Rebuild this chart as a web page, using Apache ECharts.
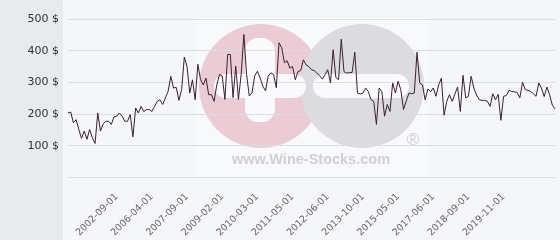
<!DOCTYPE html>
<html><head><meta charset="utf-8">
<script src="https://cdn.jsdelivr.net/npm/echarts@6/dist/echarts.min.js"></script>
<style>html,body{margin:0;padding:0;background:#f5f6f9}#c{width:560px;height:240px}</style>
</head><body><div id="c"></div>
<script>
// Price per bottle ($), in order
const prices = [
 203,206,172,182,151,123,146,120,151,125,107,203,146,169,177,177,167,191,193,203,
 193,177,177,198,128,219,203,224,208,214,214,
 208,224,240,245,230,251,271,319,282,284,243,277,380,350,266,308,245,357,308,292,
 313,261,261,240,292,
 325,320,246,388,388,252,351,246,325,451,325,257,267,320,335,314,288,273,320,330,
 325,283,425,409,362,368,345,350,308,
 334,337,371,355,350,340,337,329,321,310,324,340,298,403,315,308,436,334,329,331,
 331,395,266,263,266,282,271,245,240,167,282,271,193,230,208,298,266,303,277,214,
 240,266,264,266,395,298,292,245,279,270,282,256,292,313,196,240,261,240,263,285,
 208,322,251,256,319,282,260,245,243,243,240,224,264,245,262,180,256,258,275,271,
 270,268,251,300,277,275,271,264,256,298,282,255,285,261,228,216
];
const tickLabels = ['2002-09-01','2006-04-01','2007-09-01','2009-02-01','2010-03-01','2011-05-01',
  '2012-06-01','2013-10-01','2015-05-01','2017-06-01','2018-09-01','2019-11-01'];
const tickIndex = [18,31,44,57,70,83,96,109,122,135,148,161];
const yTicks = [0,100,200,300,400,500];

const categories = prices.map((_, i) => {
  const k = tickIndex.indexOf(i);
  return k >= 0 ? tickLabels[k] : '';
});

const chart = echarts.init(document.getElementById('c'), null, {renderer: 'canvas'});
chart.setOption({
  backgroundColor: '#f5f6f9',
  animation: false,
  graphic: [
    {type: 'rect', z: -10, silent: true, shape: {x: 0, y: 0, width: 63, height: 240}, style: {fill: '#e8ebee'}},
    {type: 'rect', z: -9, silent: true, shape: {x: 197, y: 18, width: 230, height: 158}, style: {fill: 'rgba(255,255,255,0.35)'}},
    {type: 'circle', z: -8, silent: true, shape: {cx: 261, cy: 86, r: 62}, style: {fill: '#ecccd4'}},
    {type: 'circle', z: -7, silent: true, shape: {cx: 362, cy: 86, r: 62}, style: {fill: '#dcdcdf'}},
    {type: 'rect', z: -6, silent: true, shape: {x: 214, y: 74, width: 92, height: 24, r: 12}, style: {fill: '#fafafc'}},
    {type: 'rect', z: -6, silent: true, shape: {x: 245, y: 38, width: 30, height: 84, r: 13}, style: {fill: '#fafafc'}},
    {type: 'rect', z: -6, silent: true, shape: {x: 313, y: 74, width: 96, height: 24, r: 12}, style: {fill: '#fafafc'}},
    {type: 'text', z: -6, silent: true, x: 311, y: 160, style: {text: 'www.Wine-Stocks.com', fill: '#d0d0d3', font: 'bold 14.5px "Liberation Sans", Arial, sans-serif', align: 'center', verticalAlign: 'middle'}},
    {type: 'text', z: -6, silent: true, x: 413, y: 140, style: {text: '®', fill: '#cfcfd2', font: '17px "Liberation Sans", Arial, sans-serif', align: 'center', verticalAlign: 'middle'}}
  ],
  grid: {left: 68, right: 5, top: 19, bottom: 62, containLabel: false},
  xAxis: {
    type: 'category',
    data: categories,
    boundaryGap: false,
    axisLine: {show: false},
    axisTick: {show: false},
    splitLine: {show: false},
    axisLabel: {
      interval: (i) => tickIndex.includes(i),
      rotate: 45,
      margin: 18,
      color: '#666',
      fontSize: 9.5,
      fontFamily: 'DejaVu Sans'
    }
  },
  yAxis: {
    type: 'value',
    min: yTicks[0],
    max: yTicks[yTicks.length - 1],
    interval: 100,
    axisLine: {show: false},
    axisTick: {show: false},
    splitLine: {lineStyle: {color: '#dcdde2', width: 1}},
    axisLabel: {
      margin: 9,
      color: '#333',
      fontSize: 11,
      fontFamily: 'DejaVu Sans',
      formatter: (v) => v === 0 ? '' : v + ' $'
    }
  },
  series: [{
    type: 'line',
    data: prices,
    symbol: 'none',
    z: 5,
    lineStyle: {color: '#3b2030', width: 1}
  }]
});
</script></body></html>
